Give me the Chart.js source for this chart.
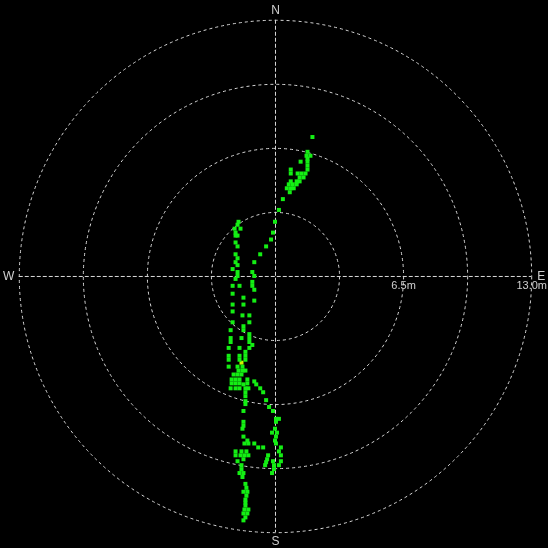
<!DOCTYPE html>
<html>
<head>
<meta charset="utf-8">
<script src="https://cdn.jsdelivr.net/npm/chart.js@4"></script>
<style>
html,body{margin:0;padding:0;background:#000;overflow:hidden;}
canvas{display:block;}
</style>
</head>
<body>
<canvas id="c" width="548" height="548"></canvas>
<script>
// Positions of detected points, metres east (+) / north (+) of the sensor
const eastM = [
 1.90,1.65,1.60,1.80,1.65,1.65,1.30,1.65,0.80,1.65,0.80,1.15,1.35,1.55,1.25,1.45,1.10,1.25,0.80,0.70,
 0.90,1.10,0.60,0.80,0.95,0.75,0.40,0.20,0.00,-0.10,-0.20,-0.45,-0.75,-1.05,-1.15,-1.05,-1.15,-1.15,-1.05,-1.05,
 -1.60,-1.60,-1.30,-1.65,-1.30,-1.60,-1.60,-1.30,-1.30,-1.30,-1.70,-1.15,-1.30,-1.80,-2.35,-1.85,-1.90,-2.05,-1.75,-2.00,
 -2.00,-1.90,-2.00,-1.90,-2.00,-1.90,-2.00,-1.90,-2.15,-1.90,-1.90,-2.00,-2.15,-1.80,-2.15,-2.15,-2.15,-2.15,-2.25,-2.25,
 -2.25,-1.50,-2.35,-1.80,-1.50,-2.35,-1.80,-1.50,-2.35,-1.90,-1.65,-1.50,-1.85,-1.65,-2.10,-1.90,-1.70,-2.20,-2.00,-1.80,
 -2.20,-2.00,-1.80,-1.40,-1.40,-1.05,-0.95,-2.25,-2.00,-1.80,-1.60,-1.50,-1.35,-0.75,-1.50,-0.60,-1.50,-0.45,-1.50,-1.50,
 -0.30,-0.10,-1.60,0.05,0.20,0.05,-1.60,-1.60,-1.65,0.00,-0.15,0.10,-1.60,0.05,0.00,-1.40,-1.55,-1.35,-1.05,-0.85,
 -0.60,0.05,0.30,-2.00,-1.70,-1.45,0.20,-2.00,-1.75,-1.55,-1.35,-0.35,0.30,-1.60,-0.40,-1.90,-0.10,-0.45,0.30,-0.50,
 -0.05,0.20,-1.70,-1.70,-0.05,-1.80,-1.60,-0.15,-1.65,-1.50,-1.45,-1.60,-1.40,-1.45,-1.50,-1.50,-1.50,-1.55,-1.35,-1.60,
 -1.40,-1.50,-1.60
];
const northM = [
 7.05,6.30,6.10,6.10,5.95,5.80,5.80,5.60,5.40,5.40,5.20,5.20,5.20,5.20,5.00,5.00,4.80,4.80,4.80,4.65,
 4.65,4.65,4.45,4.45,4.45,4.25,3.90,3.35,2.75,2.20,1.85,1.50,1.10,0.70,0.20,0.00,-0.30,-0.50,-0.70,-1.25,
 -1.10,-1.45,-2.00,-2.00,-2.35,-2.55,-2.75,-2.95,-3.15,-3.35,-3.15,-3.50,-3.65,-3.65,-3.65,2.75,2.60,2.40,2.40,2.20,
 2.05,2.05,1.70,1.50,1.10,0.90,0.70,0.55,0.35,0.20,0.00,-0.15,-0.50,-0.50,-0.90,-1.45,-1.80,-2.35,-2.75,-3.15,
 -3.35,-3.85,-4.05,-4.05,-4.05,-4.25,-4.25,-4.25,-4.60,-4.60,-4.60,-4.80,-4.80,-4.80,-5.00,-5.00,-5.00,-5.25,-5.25,-5.25,
 -5.45,-5.45,-5.45,-5.25,-5.45,-5.35,-5.50,-5.70,-5.70,-5.70,-5.50,-5.70,-5.70,-5.70,-5.90,-5.90,-6.10,-6.30,-6.35,-6.50,
 -6.65,-6.85,-6.85,-7.25,-7.25,-7.40,-7.40,-7.60,-7.75,-7.75,-7.95,-7.95,-8.15,-8.15,-8.35,-8.35,-8.50,-8.50,-8.50,-8.70,
 -8.70,-8.50,-8.70,-8.90,-8.90,-8.90,-8.90,-9.10,-9.10,-9.10,-9.10,-9.10,-9.10,-9.30,-9.30,-9.40,-9.40,-9.45,-9.40,-9.60,
 -9.60,-9.60,-9.60,-9.80,-9.80,-10.00,-10.00,-10.00,-10.20,-10.55,-10.75,-10.95,-10.95,-11.15,-11.35,-11.50,-11.65,-11.85,-11.85,-12.05,
 -12.05,-12.25,-12.40
];
// Highlighted (current) target
const highlightEastM = [-1.70];
const highlightNorthM = [-4.40];

// Range rings (metres) and their labels
const ringRadiiM = [3.25, 6.5, 9.75, 13.0];
const ringLabels = ['', '6.5m', '', '13.0m'];
const compassLabels = ['N', 'E', 'S', 'W'];

const toPoints = (xs, ys) => xs.map((x, i) => ({x: x, y: ys[i]}));

const radarPlugin = {
  id: 'radar',
  beforeDraw(chart) {
    const ctx = chart.ctx;
    ctx.save();
    ctx.fillStyle = '#000';
    ctx.fillRect(0, 0, chart.width, chart.height);
    ctx.restore();
  },
  beforeDatasetsDraw(chart) {
    const ctx = chart.ctx;
    const xs = chart.scales.x, ys = chart.scales.y;
    const cx = xs.getPixelForValue(0), cy = ys.getPixelForValue(0);
    const rpx = r => xs.getPixelForValue(r) - cx;
    const outer = rpx(ringRadiiM[ringRadiiM.length - 1]);
    ctx.save();
    ctx.strokeStyle = '#d8d8d8';
    ctx.lineWidth = 1;
    ctx.setLineDash([3, 3]);
    ringRadiiM.forEach(r => {
      ctx.beginPath();
      ctx.arc(cx + 0.5, cy + 0.5, rpx(r), 0, Math.PI * 2);
      ctx.stroke();
    });
    ctx.setLineDash([4, 2]);
    ctx.beginPath();
    ctx.moveTo(cx - outer, cy + 0.5);
    ctx.lineTo(cx + outer, cy + 0.5);
    ctx.moveTo(cx + 0.5, cy - outer);
    ctx.lineTo(cx + 0.5, cy + outer);
    ctx.stroke();
    ctx.setLineDash([]);
    // compass labels
    ctx.fillStyle = '#d0d0d0';
    ctx.font = '12px "Liberation Sans", Arial, sans-serif';
    ctx.textAlign = 'center';
    ctx.textBaseline = 'middle';
    ctx.fillText(compassLabels[0], cx + 0.5, cy - outer - 9);
    ctx.fillText(compassLabels[1], cx + outer + 10, cy + 0.5);
    ctx.fillText(compassLabels[2], cx + 0.5, cy + outer + 10);
    ctx.fillText(compassLabels[3], cx - outer - 10, cy + 0.5);
    // ring distance labels
    ctx.font = '11px "Liberation Sans", Arial, sans-serif';
    ringRadiiM.forEach((r, i) => {
      if (ringLabels[i]) ctx.fillText(ringLabels[i], cx + rpx(r) + 0.5, cy + 10);
    });
    ctx.restore();
  }
};

new Chart(document.getElementById('c'), {
  type: 'scatter',
  data: {
    datasets: [
      {
        data: toPoints(eastM, northM),
        pointStyle: 'rect',
        pointRadius: 2.83,
        pointHoverRadius: 2.83,
        backgroundColor: '#14ee14',
        borderWidth: 0
      },
      {
        data: toPoints(highlightEastM, highlightNorthM),
        pointStyle: 'rect',
        pointRadius: 2.83,
        backgroundColor: '#d8f000',
        borderWidth: 0
      }
    ]
  },
  options: {
    responsive: false,
    animation: false,
    events: [],
    layout: {padding: 0},
    plugins: {legend: {display: false}, tooltip: {enabled: false}},
    scales: {
      x: {type: 'linear', min: -13.75, max: 13.65, display: false},
      y: {type: 'linear', min: -13.6, max: 13.8, display: false}
    }
  },
  plugins: [radarPlugin]
});
</script>
</body>
</html>
